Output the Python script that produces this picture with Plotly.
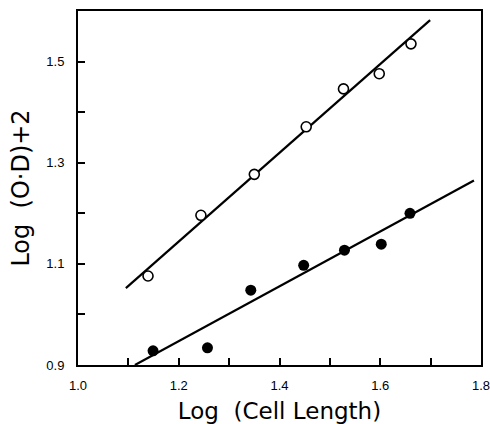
import plotly.graph_objects as go

# Messpunkte
log_len_open = [1.139, 1.244, 1.350, 1.453, 1.527, 1.598, 1.661]
log_od_open = [1.076, 1.196, 1.277, 1.371, 1.446, 1.476, 1.535]

log_len_filled = [1.149, 1.257, 1.343, 1.448, 1.529, 1.602, 1.659]
log_od_filled = [0.928, 0.934, 1.048, 1.097, 1.127, 1.139, 1.200]

fit_open_x = [1.095, 1.699]
fit_open_y = [1.052, 1.582]
fit_filled_x = [1.113, 1.786]
fit_filled_y = [0.900, 1.265]

x_tickvals = [1.0, 1.1, 1.2, 1.3, 1.4, 1.5, 1.6, 1.7, 1.8]
x_ticktext = ["1.0", "", "1.2", "", "1.4", "", "1.6", "", "1.8"]
y_tickvals = [0.9, 1.0, 1.1, 1.2, 1.3, 1.4, 1.5, 1.6]
y_ticktext = ["0.9", "", "1.1", "", "1.3", "", "1.5", ""]

fig = go.Figure()

fig.add_trace(go.Scatter(x=fit_open_x, y=fit_open_y, mode="lines",
                         line=dict(color="black", width=2.2)))
fig.add_trace(go.Scatter(x=fit_filled_x, y=fit_filled_y, mode="lines",
                         line=dict(color="black", width=2.2)))
fig.add_trace(go.Scatter(x=log_len_open, y=log_od_open, mode="markers",
                         marker=dict(symbol="circle", size=10, color="white",
                                     line=dict(color="black", width=1.6))))
fig.add_trace(go.Scatter(x=log_len_filled, y=log_od_filled, mode="markers",
                         marker=dict(symbol="circle", size=11, color="black")))

tick_font = dict(family="Liberation Sans", size=13, color="black")
title_font = dict(family="DejaVu Sans", size=23, color="black")

fig.update_layout(
    width=490, height=424,
    margin=dict(l=78, r=9, t=11, b=59),
    paper_bgcolor="white", plot_bgcolor="white",
    showlegend=False,
    xaxis=dict(range=[1.0, 1.8], tickvals=x_tickvals, ticktext=x_ticktext,
               ticks="inside", ticklen=7, tickwidth=1.5, tickcolor="black",
               showline=True, linecolor="black", linewidth=2, mirror=True,
               showgrid=False, zeroline=False,
               tickfont=tick_font, automargin=False, ticklabelstandoff=7,
               ticklabeloverflow="allow",
               title=dict(text="Log  (Cell Length)", font=title_font, standoff=11)),
    yaxis=dict(range=[0.9, 1.6], tickvals=y_tickvals, ticktext=y_ticktext,
               ticks="inside", ticklen=7, tickwidth=1.5, tickcolor="black",
               showline=True, linecolor="black", linewidth=2, mirror=True,
               showgrid=False, zeroline=False,
               tickfont=tick_font, automargin=False, ticklabelstandoff=9,
               ticklabeloverflow="allow",
               title=dict(text="Log  (O·D)+2", font=dict(family="DejaVu Sans", size=24,
                                                      color="black"), standoff=10)),
)

# Browser-Standardrand entfernen, damit die Grafik exakt ins Fenster passt
fig.write_html("out.html", config={"displayModeBar": False},
               post_script="document.body.style.margin='0';")
